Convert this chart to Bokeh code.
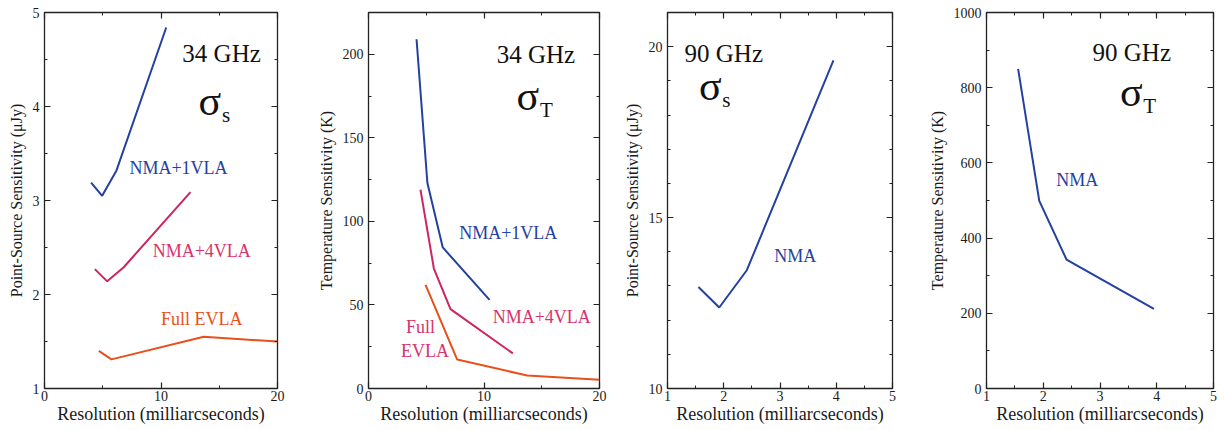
from bokeh.plotting import figure
from bokeh.layouts import row
from bokeh.models import LinearAxis, SingleIntervalTicker, Range1d, Label, CustomLabelingPolicy
from bokeh.embed import file_html
from bokeh.resources import INLINE

# ---- data ----
# Panel 1: 34 GHz point-source sensitivity (uJy)
p1_nma1_x = [4.0, 4.95, 6.18, 10.45]
p1_nma1_y = [3.19, 3.05, 3.32, 4.84]
p1_nma4_x = [4.32, 5.38, 6.8, 12.53]
p1_nma4_y = [2.27, 2.14, 2.29, 3.09]
p1_evla_x = [4.66, 5.75, 13.67, 20.0]
p1_evla_y = [1.40, 1.31, 1.55, 1.50]

# Panel 2: 34 GHz temperature sensitivity (K)
p2_nma1_x = [4.16, 5.1, 6.43, 10.48]
p2_nma1_y = [209, 123, 84.4, 53]
p2_nma4_x = [4.5, 5.66, 7.1, 12.5]
p2_nma4_y = [119, 71.8, 47.5, 21]
p2_evla_x = [4.94, 7.68, 13.74, 20.0]
p2_evla_y = [62, 17.3, 7.8, 5.2]

# Panel 3: 90 GHz point-source sensitivity (uJy)
p3_nma_x = [1.55, 1.92, 2.41, 3.95]
p3_nma_y = [12.97, 12.37, 13.46, 19.6]

# Panel 4: 90 GHz temperature sensitivity (K)
p4_nma_x = [1.557, 1.93, 2.41, 3.95]
p4_nma_y = [850, 499, 343, 212]

BLUE = "#2341a0"
PINK = "#cf2463"
PINKTXT = "#d8336c"
ORANGE = "#e8501a"
FONT = "Liberation Serif"
XLABEL = "Resolution (milliarcseconds)"
H = 430


def make_fig(width, left, right, xr, yr, xint, xminor, yint, yminor, ylabel):
    p = figure(width=width, height=H, output_backend="svg", toolbar_location=None,
               x_range=Range1d(*xr), y_range=Range1d(*yr),
               min_border_left=left, min_border_right=right,
               min_border_top=12, min_border_bottom=42,
               x_axis_location=None, y_axis_location=None)
    p.grid.visible = False
    p.outline_line_color = "#222222"
    p.outline_line_width = 1.3
    p.background_fill_color = "white"
    p.border_fill_color = "white"
    for loc in ["below", "left", "above", "right"]:
        vertical = loc in ("left", "right")
        if vertical:
            tk = SingleIntervalTicker(interval=yint, num_minor_ticks=yminor)
        else:
            tk = SingleIntervalTicker(interval=xint, num_minor_ticks=xminor)
        ax = LinearAxis(ticker=tk)
        ax.axis_line_color = None
        ax.major_tick_in = 6
        ax.major_tick_out = 0
        ax.minor_tick_in = 3
        ax.minor_tick_out = 0
        ax.major_tick_line_color = "#222222"
        ax.minor_tick_line_color = "#222222"
        ax.major_tick_line_width = 1.2
        ax.minor_tick_line_width = 1.0
        if loc in ("below", "left"):
            ax.major_label_text_font = FONT
            ax.major_label_text_font_size = "14px"
            ax.major_label_text_color = "#1a1a1a"
            ax.axis_label_text_font = FONT
            ax.axis_label_text_font_style = "normal"
            ax.axis_label_text_color = "#1a1a1a"
            if loc == "below":
                ax.axis_label = XLABEL
                ax.axis_label_text_font_size = "18px"
                ax.major_label_standoff = 2
                ax.axis_label_standoff = 0
            else:
                ax.axis_label = ylabel
                ax.axis_label_text_font_size = "16px"
                ax.major_label_standoff = 5
                ax.axis_label_standoff = 5
        else:
            ax.major_label_policy = CustomLabelingPolicy(code="return []")
            ax.major_label_text_font_size = "1px"
            ax.major_label_standoff = 0
            ax.axis_label = None
        p.add_layout(ax, loc)
    return p


def add_text(p, x, y, txt, color, size, align="center"):
    p.add_layout(Label(x=x, y=y, text=txt, text_color=color, text_font=FONT,
                       text_font_size=size, text_align=align,
                       text_baseline="middle"))


def add_sigma(p, x, y, sub):
    p.add_layout(Label(x=x, y=y, text="\u03c3", text_color="#111111", text_font=FONT,
                       text_font_size="42px", text_align="center", text_baseline="middle"))
    p.add_layout(Label(x=x, y=y, x_offset=12, y_offset=-14, text=sub, text_color="#111111",
                       text_font=FONT, text_font_size="21px", text_align="left",
                       text_baseline="middle"))


# ---- panel 1 ----
p1 = make_fig(310, 44, 33, (0, 20), (1, 5), 10, 2, 1, 2, "Point-Source Sensitivity (\u03bcJy)")
p1.line(p1_nma1_x, p1_nma1_y, line_color=BLUE, line_width=2)
p1.line(p1_nma4_x, p1_nma4_y, line_color=PINK, line_width=2)
p1.line(p1_evla_x, p1_evla_y, line_color=ORANGE, line_width=2)
add_text(p1, 15.2, 4.56, "34 GHz", "#111111", "25px")
add_sigma(p1, 14.2, 4.06, "s")
add_text(p1, 11.5, 3.35, "NMA+1VLA", BLUE, "18px")
add_text(p1, 13.5, 2.46, "NMA+4VLA", PINKTXT, "18px")
add_text(p1, 13.5, 1.74, "Full EVLA", ORANGE, "18px")

# ---- panel 2 ----
p2 = make_fig(310, 58, 21, (0, 20), (0, 225), 10, 2, 50, 2, "Temperature Sensitivity (K)")
p2.line(p2_nma1_x, p2_nma1_y, line_color=BLUE, line_width=2)
p2.line(p2_nma4_x, p2_nma4_y, line_color=PINK, line_width=2)
p2.line(p2_evla_x, p2_evla_y, line_color=ORANGE, line_width=2)
add_text(p2, 14.5, 200, "34 GHz", "#111111", "25px")
add_sigma(p2, 13.8, 175, "T")
add_text(p2, 12.1, 93, "NMA+1VLA", BLUE, "18px")
add_text(p2, 15.0, 43, "NMA+4VLA", PINKTXT, "18px")
add_text(p2, 4.5, 37, "Full", PINKTXT, "18px")
add_text(p2, 4.9, 22.5, "EVLA", PINKTXT, "18px")

# ---- panel 3 ----
p3 = make_fig(305, 40, 33, (1, 5), (10, 21), 1, 2, 5, 5, "Point-Source Sensitivity (\u03bcJy)")
p3.line(p3_nma_x, p3_nma_y, line_color=BLUE, line_width=2)
add_text(p3, 2.0, 19.8, "90 GHz", "#111111", "25px")
add_sigma(p3, 1.76, 18.85, "s")
add_text(p3, 3.27, 13.87, "NMA", BLUE, "18px")

# ---- panel 4 ----
p4 = make_fig(300, 58, 12, (1, 5), (0, 1000), 1, 2, 200, 2, "Temperature Sensitivity (K)")
p4.line(p4_nma_x, p4_nma_y, line_color=BLUE, line_width=2)
add_text(p4, 3.56, 893, "90 GHz", "#111111", "25px")
add_sigma(p4, 3.55, 788, "T")
add_text(p4, 2.6, 555, "NMA", BLUE, "18px")

layout = row(p1, p2, p3, p4, spacing=0)
open("out.html", "w").write(file_html(layout, INLINE))
